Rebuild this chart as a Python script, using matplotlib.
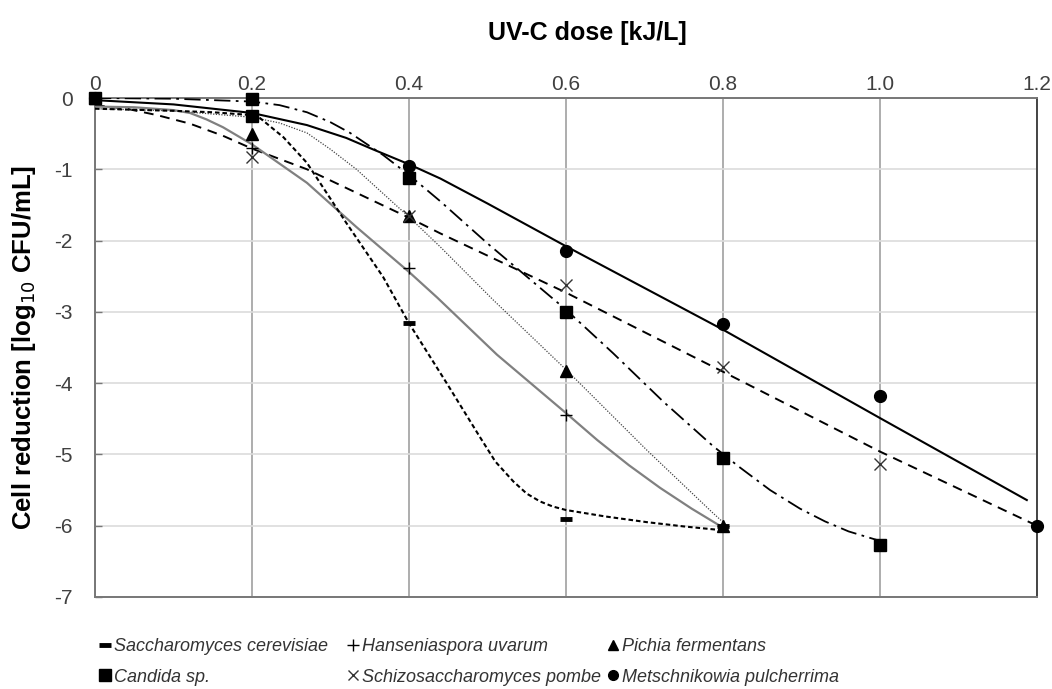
import numpy as np
import matplotlib.pyplot as plt
from matplotlib.lines import Line2D

# measured points (markers)
sc_x = [0.0, 0.4, 0.6, 0.8]
sc_y = [0.0, -3.15, -5.9, -6.0]
hu_x = [0.0, 0.2, 0.4, 0.6, 0.8]
hu_y = [0.0, -0.7, -2.38, -4.44, -6.0]
pf_x = [0.0, 0.2, 0.4, 0.6, 0.8]
pf_y = [0.0, -0.5, -1.65, -3.83, -6.0]
ca_x = [0.0, 0.2, 0.2, 0.4, 0.6, 0.8, 1.0]
ca_y = [0.0, -0.02, -0.25, -1.12, -3.0, -5.05, -6.27]
sp_x = [0.2, 0.4, 0.6, 0.8, 1.0]
sp_y = [-0.83, -1.65, -2.62, -3.78, -5.13]
mp_x = [0.0, 0.4, 0.6, 0.8, 1.0, 1.2]
mp_y = [0.0, -0.95, -2.15, -3.17, -4.18, -6.0]

# fitted curves
sc_fx = [0.0, 0.1, 0.15, 0.2, 0.21, 0.24, 0.27, 0.32, 0.367, 0.4, 0.448, 0.49, 0.51, 0.533,
         0.55, 0.567, 0.583, 0.6, 0.65, 0.703, 0.75, 0.796]
sc_fy = [-0.15, -0.18, -0.2, -0.24, -0.28, -0.55, -0.91, -1.75, -2.51, -3.16, -4.0, -4.75, -5.1,
         -5.38, -5.55, -5.66, -5.73, -5.78, -5.87, -5.95, -6.01, -6.06]
hu_fx = [0.0, 0.05, 0.1, 0.121, 0.142, 0.163, 0.2, 0.27, 0.333, 0.4, 0.436, 0.512, 0.6, 0.64,
         0.68, 0.72, 0.76, 0.796]
hu_fy = [-0.12, -0.13, -0.17, -0.21, -0.3, -0.41, -0.65, -1.19, -1.81, -2.44, -2.8, -3.6, -4.42,
         -4.8, -5.15, -5.47, -5.76, -6.0]
pf_fx = [0.0, 0.1, 0.2, 0.235, 0.27, 0.3, 0.333, 0.4, 0.44, 0.507, 0.6, 0.703, 0.787, 0.8]
pf_fy = [-0.15, -0.18, -0.27, -0.35, -0.49, -0.72, -1.0, -1.67, -2.09, -2.83, -3.81, -4.94, -5.82, -5.95]
ca_fx = [0.0, 0.1, 0.2, 0.235, 0.27, 0.3, 0.325, 0.367, 0.4, 0.44, 0.5, 0.6, 0.66, 0.724, 0.787,
         0.82, 0.86, 0.898, 0.93, 0.96, 0.996]
ca_fy = [0.0, -0.01, -0.05, -0.1, -0.2, -0.34, -0.49, -0.8, -1.08, -1.45, -2.04, -2.97, -3.58,
         -4.26, -4.88, -5.17, -5.5, -5.76, -5.94, -6.08, -6.2]
sp_fx = [0.0, 0.04, 0.079, 0.121, 0.163, 0.2, 0.27, 0.333, 0.4, 0.44, 0.6, 0.8, 1.0, 1.2]
sp_fy = [-0.1, -0.15, -0.24, -0.36, -0.53, -0.71, -1.0, -1.33, -1.68, -1.9, -2.73, -3.84, -4.96, -6.0]
mp_fx = [0.0, 0.1, 0.2, 0.27, 0.32, 0.354, 0.4, 0.44, 0.5, 0.6, 0.8, 1.0, 1.187]
mp_fy = [-0.03, -0.09, -0.21, -0.38, -0.56, -0.72, -0.93, -1.13, -1.48, -2.08, -3.25, -4.49, -5.64]

labels = ["Saccharomyces cerevisiae", "Hanseniaspora uvarum", "Pichia fermentans",
          "Candida sp.", "Schizosaccharomyces pombe", "Metschnikowia pulcherrima"]

plt.rcParams["font.family"] = ["Liberation Sans", "DejaVu Sans"]
plt.rcParams["axes.unicode_minus"] = False

W, H = 1052, 689
fig = plt.figure(figsize=(W / 100, H / 100), dpi=100)
ax = fig.add_axes([95 / W, 1 - 597 / H, 942 / W, 499 / H])

# curves
ax.plot(mp_fx, mp_fy, color="black", lw=1.5, zorder=3)
ax.plot(sp_fx, sp_fy, color="black", lw=1.4, dashes=(5, 3.5), zorder=3)
ax.plot(ca_fx, ca_fy, color="black", lw=1.3, dashes=(9, 3, 1.5, 3), zorder=3)
ax.plot(pf_fx, pf_fy, color="#444444", lw=0.9, dashes=(1, 1.2), zorder=3)
ax.plot(hu_fx, hu_fy, color="#808080", lw=1.6, zorder=3)
ax.plot(sc_fx, sc_fy, color="black", lw=1.5, dashes=(2.2, 1.4), zorder=3)

# markers
mk = dict(ls="none", color="black", zorder=4, clip_on=False)
ax.plot(sc_x, sc_y, marker="_", ms=9, mew=3.5, **mk)
ax.plot(hu_x, hu_y, marker="+", ms=9, mew=1.0, **mk)
ax.plot(pf_x, pf_y, marker="^", ms=8, **mk)
ax.plot(ca_x, ca_y, marker="s", ms=8, **mk)
ax.plot(sp_x, sp_y, marker="x", ms=8, mew=1.0, color="#333333", ls="none", zorder=4)
ax.plot(mp_x, mp_y, marker="o", ms=8.5, **mk)

ax.set_xlim(0, 1.2)
ax.set_ylim(-7, 0)
ax.set_xticks([0, 0.2, 0.4, 0.6, 0.8, 1.0, 1.2])
ax.set_xticklabels(["0", "0.2", "0.4", "0.6", "0.8", "1.0", "1.2"])
ax.set_yticks(range(-7, 1))
ax.xaxis.tick_top()
ax.xaxis.set_label_position("top")
ax.tick_params(axis="x", length=0, pad=3, labelsize=15, labelcolor="#404040")
ax.tick_params(axis="y", direction="in", length=5, width=1, color="#777777", pad=16,
               labelsize=15, labelcolor="#404040")

ax.grid(axis="x", color="#a0a0a0", lw=1.2)
ax.grid(axis="y", color="#dcdcdc", lw=1.2)
ax.set_axisbelow(True)
for s in ax.spines.values():
    s.set_color("#777777")
    s.set_linewidth(1.4)
ax.spines["right"].set_color("#444444")

ax.set_xlabel("UV-C dose [kJ/L]", fontsize=18, fontweight="bold")
ax.xaxis.set_label_coords(0.523, 1.116)
ax.set_ylabel("Cell reduction [log$_{10}$ CFU/mL]", fontsize=18.5, fontweight="bold", labelpad=12)

handles = [
    Line2D([], [], marker="_", ms=8, mew=3.5, color="black", ls="none"),
    Line2D([], [], marker="s", ms=8, color="black", ls="none"),
    Line2D([], [], marker="+", ms=8, mew=1.0, color="black", ls="none"),
    Line2D([], [], marker="x", ms=7, mew=1.0, color="#333333", ls="none"),
    Line2D([], [], marker="^", ms=7, color="black", ls="none"),
    Line2D([], [], marker="o", ms=7, color="black", ls="none"),
]
col_left = [98, 346, 606]
for i, x0 in enumerate(col_left):
    leg = fig.legend(handles[2 * i:2 * i + 2],
                     [labels[i], labels[i + 3]],
                     loc="upper left", bbox_to_anchor=(x0 / W, 1 - 638 / H),
                     frameon=False, borderpad=0, borderaxespad=0,
                     handlelength=0.75, handletextpad=0.15, labelspacing=0.75,
                     prop={"style": "italic", "size": 13})
    for t in leg.get_texts():
        t.set_color("#333333")

fig.savefig("out.png", dpi=100)
